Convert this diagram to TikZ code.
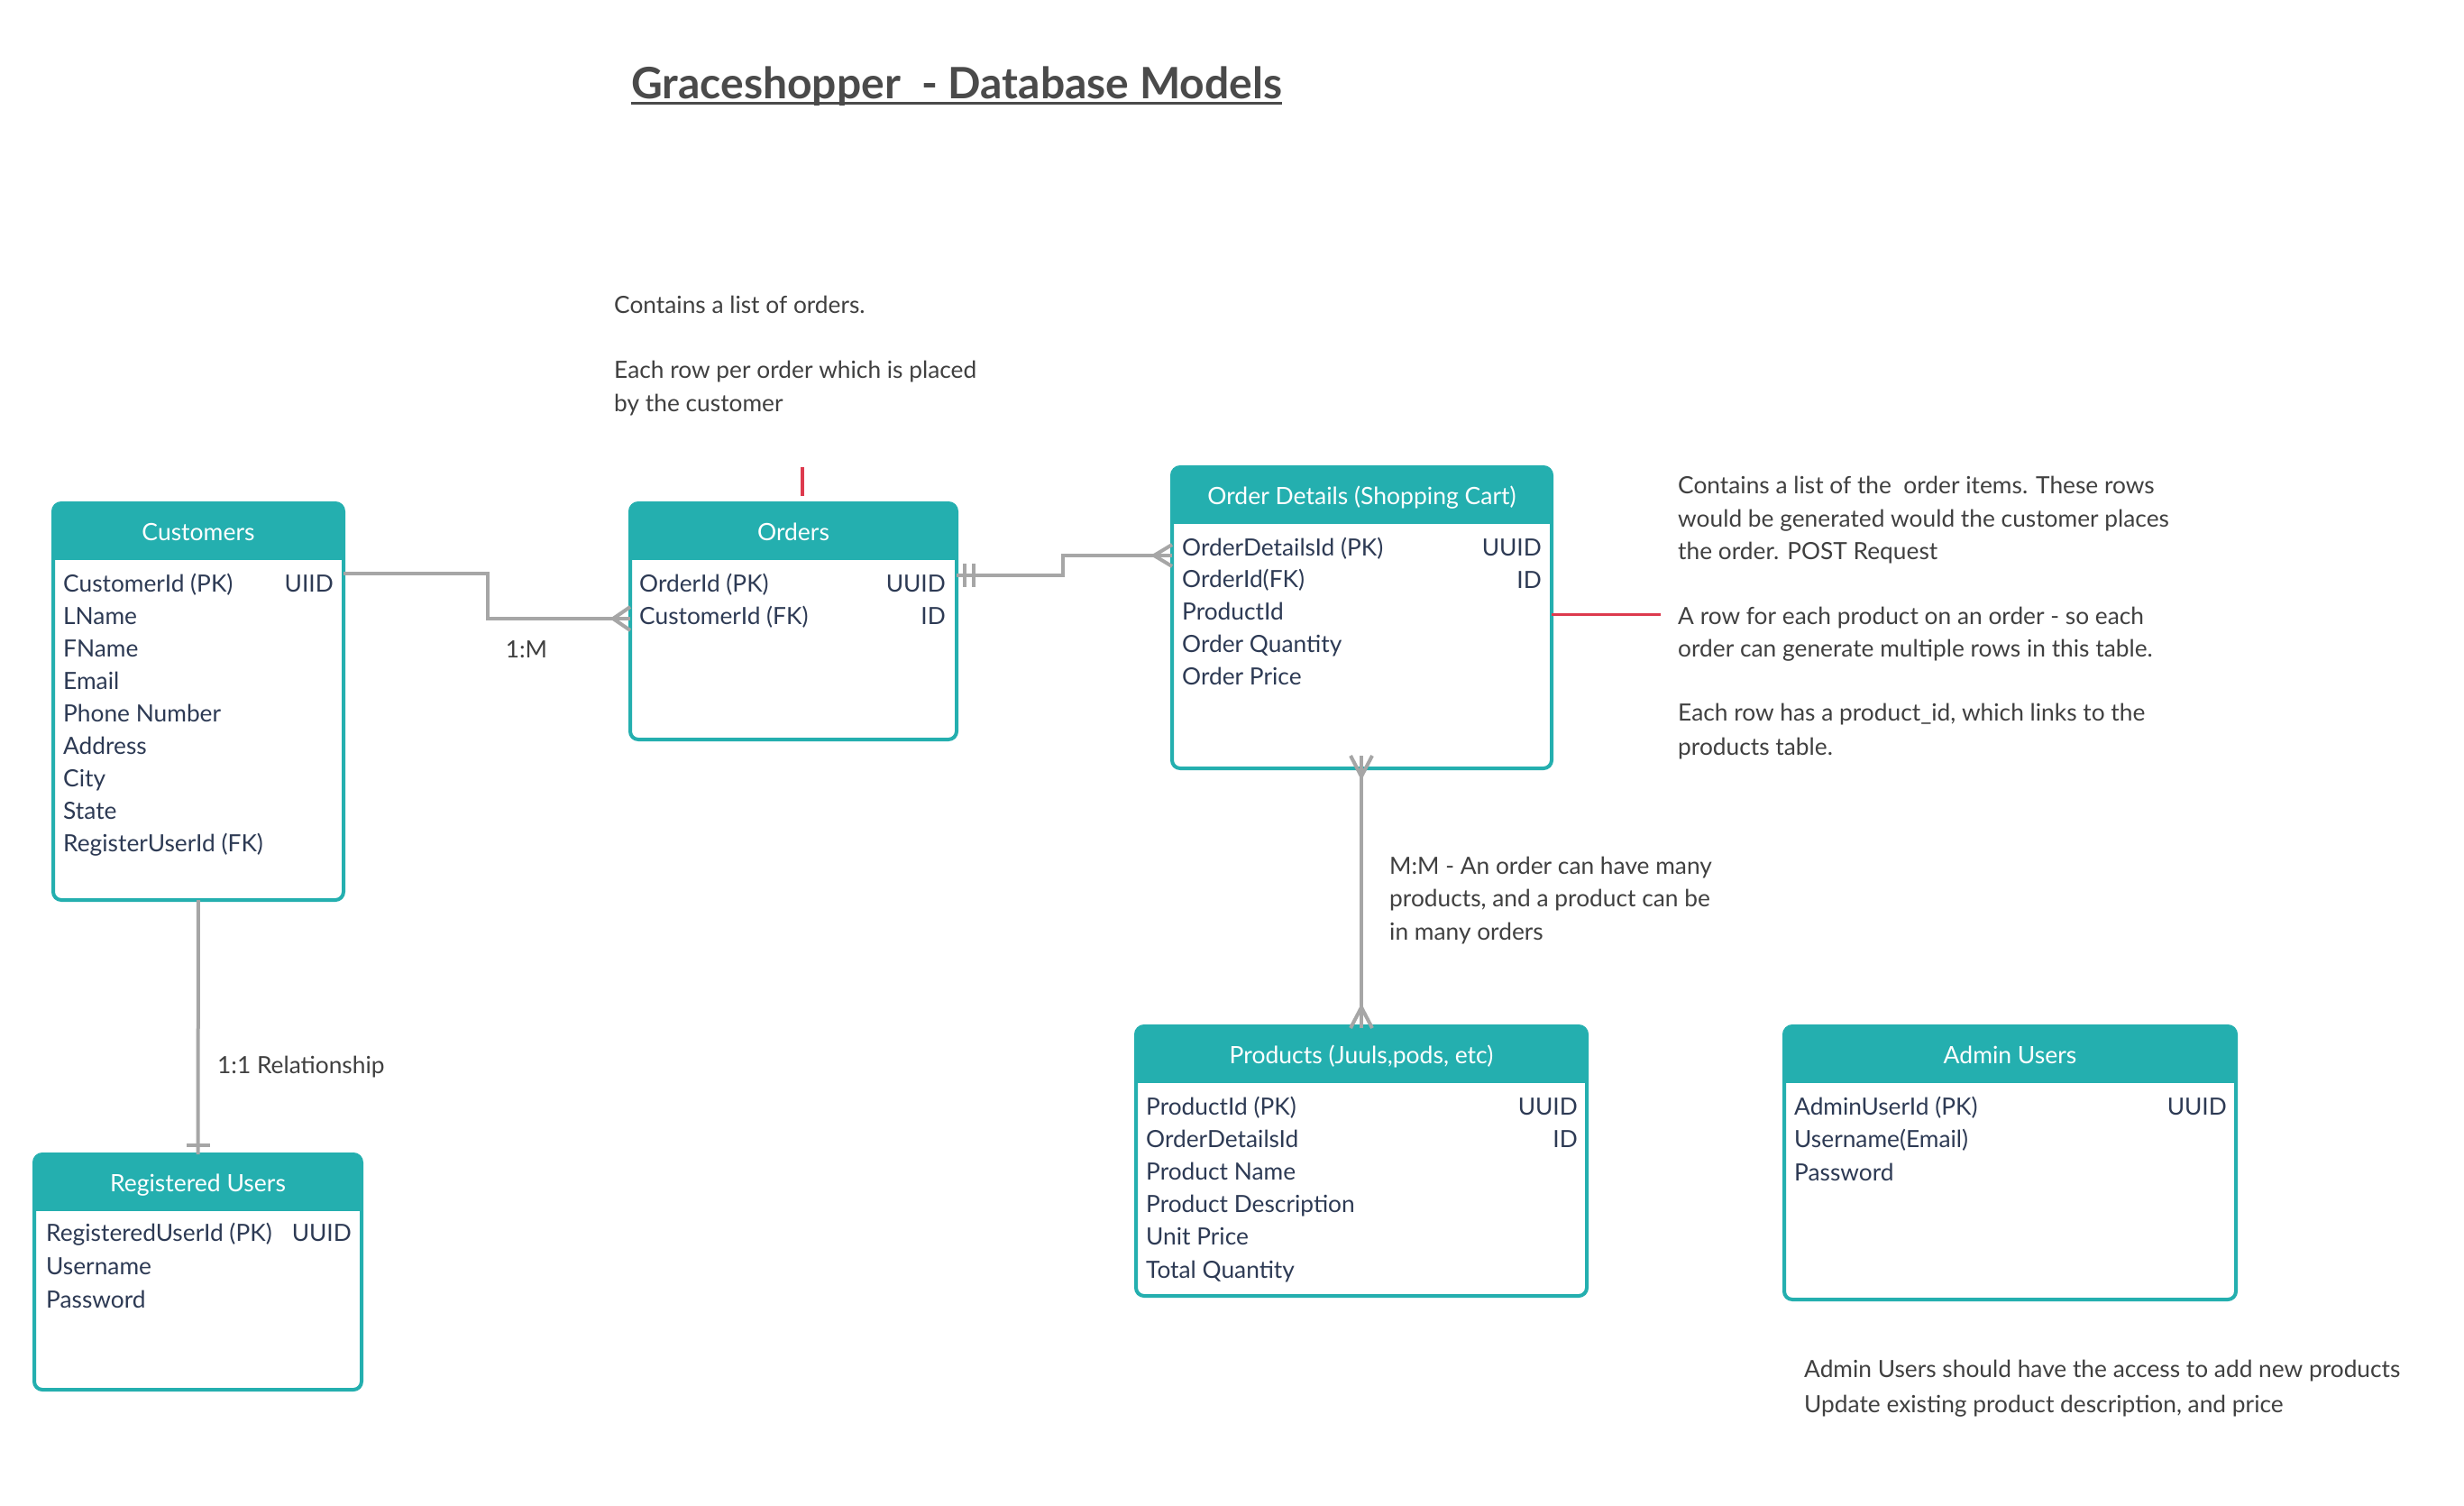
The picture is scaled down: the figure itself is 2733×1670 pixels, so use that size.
\documentclass[tikz,border=0pt]{standalone}
\usepackage{fontspec}
\setmainfont{Lato}
\usetikzlibrary{calc}
\definecolor{erteal}{RGB}{36,175,175}
\definecolor{rowblue}{RGB}{45,58,84}
\definecolor{notegray}{RGB}{64,64,64}
\definecolor{titlegray}{RGB}{74,74,74}
\definecolor{conngray}{RGB}{166,166,166}
\definecolor{redmark}{RGB}{221,58,78}
\newcommand\ertable[5]{%
  \node[tbl, minimum width=#4pt, minimum height=#5pt] (#1) at (#2,#3) {};
  \begin{scope}
    \clip ([xshift=-6pt,yshift=6pt]#1.north west) rectangle ([xshift=6pt,yshift=-62pt]#1.north east);
    \fill[erteal, rounded corners=9pt] (#1.north west) rectangle (#1.south east);
  \end{scope}}
\begin{document}
\begin{tikzpicture}[x=1pt,y=-1pt,
  tbl/.style={draw=erteal, line width=4pt, rounded corners=9pt, fill=white, inner sep=0pt, outer sep=0pt},
  rowtxt/.style={anchor=base west, inner sep=0pt, text=rowblue, font=\fontsize{26.3}{31}\selectfont},
  typtxt/.style={rowtxt, anchor=base east},
  hdrtxt/.style={anchor=base, inner sep=0pt, text=white, font=\fontsize{26.5}{31}\selectfont},
  note/.style={anchor=base west, inner sep=0pt, text=notegray, font=\fontsize{26.3}{31}\selectfont},
  conn/.style={draw=conngray, line width=4pt},
  redline/.style={draw=redmark, line width=4pt}]
\fill[white] (0,0) rectangle (2733,1670);
\useasboundingbox (0,0) rectangle (2733,1670);

% title
\node[anchor=base west, inner sep=0pt, text=titlegray, font=\fontsize{48}{58}\selectfont\bfseries] (title) at (700,110) {Graceshopper\ \ - Database Models\ };
\draw[titlegray, line width=3pt] ([yshift=-4pt]title.base west) -- ([yshift=-4pt]title.base east);

% tables
\ertable{cust}{220}{778}{322}{440}
\ertable{orders}{880}{689}{362}{262}
\ertable{od}{1510.5}{685}{421}{334}
\ertable{prod}{1510}{1287.5}{500}{299}
\ertable{admin}{2229.5}{1289.5}{501}{303}
\ertable{reg}{219.5}{1410.5}{363}{261}

% headers
\node[hdrtxt] (cust-h) at (220,599) {Customers};
\node[hdrtxt] (orders-h) at (880,599) {Orders};
\node[hdrtxt] (od-h) at (1510.5,559) {Order Details (Shopping Cart)};
\node[hdrtxt] (prod-h) at (1510,1179) {Products (Juuls,pods, etc)};
\node[hdrtxt] (admin-h) at (2229.5,1179) {Admin Users};
\node[hdrtxt] (reg-h) at (219.5,1321) {Registered Users};

% rows
\foreach \t [count=\i] in {CustomerId (PK), LName, FName, Email, Phone Number, Address, City, State, RegisterUserId (FK)}
  \node[rowtxt] (cust-\i) at (70,{656+36.1*(\i-1)}) {\t};
\node[typtxt] (cust-t1) at (370,656) {UIID};

\foreach \t [count=\i] in {OrderId (PK), CustomerId (FK)}
  \node[rowtxt] (orders-\i) at (709,{656+36*(\i-1)}) {\t};
\node[typtxt] (orders-t1) at (1049,656) {UUID};
\node[typtxt] (orders-t2) at (1049,692) {ID};

\foreach \t [count=\i] in {OrderDetailsId (PK), OrderId(FK), ProductId, Order Quantity, Order Price}
  \node[rowtxt] (od-\i) at (1311,{616+35.9*(\i-1)}) {\t};
\node[typtxt] (od-t1) at (1710,616) {UUID};
\node[typtxt] (od-t2) at (1710,652) {ID};

\foreach \t [count=\i] in {ProductId (PK), OrderDetailsId, Product Name, Product Description, Unit Price, Total Quantity}
  \node[rowtxt] (prod-\i) at (1271,{1236+36.2*(\i-1)}) {\t};
\node[typtxt] (prod-t1) at (1750,1236) {UUID};
\node[typtxt] (prod-t2) at (1750,1272) {ID};

\foreach \t [count=\i] in {AdminUserId (PK), Username(Email), Password}
  \node[rowtxt] (admin-\i) at (1990,{1236+36.5*(\i-1)}) {\t};
\node[typtxt] (admin-t1) at (2470,1236) {UUID};

\foreach \t [count=\i] in {RegisteredUserId (PK), Username, Password}
  \node[rowtxt] (reg-\i) at (51,{1376+37*(\i-1)}) {\t};
\node[typtxt] (reg-t1) at (390,1376) {UUID};

% connector customers -> orders (1:M)
\coordinate (b1) at (541,636);
\coordinate (b2) at (541,686);
\draw[conn] (cust.east |- b1) -- (b1) -- (b2) -- (orders.west |- b2);
\draw[conn] ([xshift=-19pt]orders.west |- b2) -- ([yshift=13pt]orders.west |- b2);
\draw[conn] ([xshift=-19pt]orders.west |- b2) -- ([yshift=-13pt]orders.west |- b2);
\node[note, anchor=base] (lbl-1m) at (584,729) {1:M};

% connector orders -> order details
\coordinate (b3) at (1179,638);
\coordinate (b4) at (1179,616);
\draw[conn] (orders.east |- b3) -- (b3) -- (b4) -- (od.west |- b4);
\draw[conn] (1070,625) -- (1070,651);
\draw[conn] (1080,625) -- (1080,651);
\draw[conn] ([xshift=-20pt]od.west |- b4) -- ([yshift=12pt]od.west |- b4);
\draw[conn] ([xshift=-20pt]od.west |- b4) -- ([yshift=-12pt]od.west |- b4);

% connector order details -> products (M:M)
\coordinate (t1) at (1510,838);
\coordinate (t2) at (1510,1140);
\draw[conn] (t1) -- (t2);
\draw[conn] (1498,838) -- (1510,861) -- (1522,838);
\draw[conn] (1498,1140) -- (1510,1117) -- (1522,1140);
\node[note] (mm-1) at (1541,969) {M:M - An order can have many};
\node[note] (mm-2) at (1541,1005) {products, and a product can be};
\node[note] (mm-3) at (1541,1042) {in many orders};

% connector customers -> registered users (1:1)
\draw[conn] (cust.south) -- (reg.north);
\draw[conn] (207,1270) -- (233,1270);
\node[note] (lbl-11) at (241,1190) {1:1 Relationship};

% red marks
\coordinate (r1a) at (890,518);
\coordinate (r1b) at (890,550);
\draw[redline] (r1a) -- (r1b);
\coordinate (r2) at (1842,681);
\draw[redline, line width=3pt] (od.east |- r2) -- (r2);

% notes
\node[note] (na-1) at (681,347) {Contains a list of orders.};
\node[note] (na-2) at (681,419) {Each row per order which is placed};
\node[note] (na-3) at (681,456) {by the customer};

\node[note] (nb-1) at (1861,547) {Contains a list of the\ \ order items. These rows};
\node[note] (nb-2) at (1861,584) {would be generated would the customer places};
\node[note] (nb-3) at (1861,620) {the order. POST Request};
\node[note] (nb-4) at (1861,692) {A row for each product on an order - so each};
\node[note] (nb-5) at (1861,728) {order can generate multiple rows in this table.};
\node[note] (nb-6) at (1861,799) {Each row has a product\_id, which links to the};
\node[note] (nb-7) at (1861,837) {products table.};

\node[note] (nc-1) at (2001,1527) {Admin Users should have the access to add new products};
\node[note] (nc-2) at (2001,1566) {Update existing product description, and price};
\end{tikzpicture}
\end{document}
